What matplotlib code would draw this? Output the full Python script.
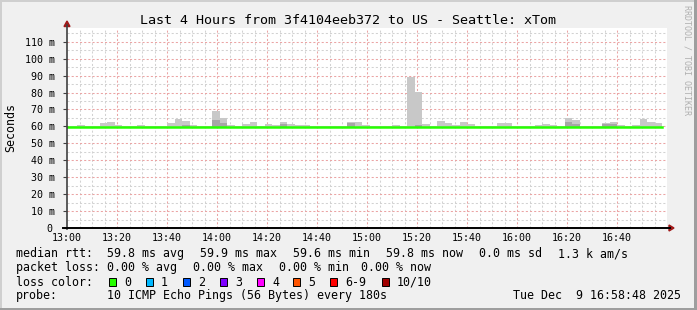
import matplotlib
matplotlib.use("Agg")
import matplotlib.pyplot as plt
from matplotlib.patches import Rectangle, Polygon
from matplotlib.lines import Line2D
from matplotlib.transforms import ScaledTranslation

W, H = 697, 310
DPI = 100

# ---------------- data ----------------
title = "Last 4 Hours from 3f4104eeb372 to US - Seattle: xTom"
x_tick_labels = ["13:00", "13:20", "13:40", "14:00", "14:20", "14:40",
                 "15:00", "15:20", "15:40", "16:00", "16:20", "16:40"]
y_tick_values = [0, 10, 20, 30, 40, 50, 60, 70, 80, 90, 100, 110]
y_tick_labels = ["0", "10 m", "20 m", "30 m", "40 m", "50 m", "60 m",
                 "70 m", "80 m", "90 m", "100 m", "110 m"]

# 3-minute buckets, first starts at 12:58 (minutes relative to 13:00)
first_bucket_min = -2
step_min = 3

median_ms = [59.8, 59.8, 59.7, 59.8, 59.8, 59.9, 59.8, 59.8, 59.7, 59.8,
             59.8, 59.8, 59.8, 59.7, 59.8, 59.9, 59.8, 59.8, 59.8, 59.8,
             59.9, 59.8, 59.8, 59.8, 59.8, 59.8, 59.7, 59.8, 59.8, 59.8,
             59.8, 59.8, 59.6, 59.8, 59.8, 59.8, 59.7, 59.8, 59.8, 59.8,
             59.8, 59.8, 59.8, 59.8, 59.8, 59.8, 59.9, 59.8, 59.8, 59.8,
             59.8, 59.8, 59.8, 59.7, 59.8, 59.8, 59.8, 59.8, 59.8, 59.8,
             59.8, 59.8, 59.8, 59.8, 59.7, 59.8, 59.8, 59.8, 59.8, 59.8,
             59.8, 59.8, 59.8, 59.8, 59.8, 59.8, 59.8, 59.8, 59.8, 59.8]

max_ms = [59.8, 60.0, 61.0, 60.0, 60.0, 62.0, 62.7, 61.0, 60.0, 60.0,
          61.0, 60.0, 60.0, 60.0, 62.0, 64.2, 63.4, 61.0, 60.0, 60.0,
          68.9, 65.2, 61.0, 60.0, 61.5, 62.7, 60.5, 61.5, 60.8, 62.7,
          61.5, 61.0, 61.0, 60.0, 60.0, 60.0, 60.0, 60.0, 62.5, 62.7,
          61.0, 60.0, 60.0, 60.0, 61.0, 60.0, 88.9, 80.2, 61.5, 60.0,
          63.4, 62.1, 61.0, 62.7, 61.5, 60.0, 60.0, 60.0, 62.1, 62.1,
          60.0, 60.0, 60.0, 61.0, 61.5, 61.0, 60.0, 65.2, 64.0, 60.0,
          60.0, 60.0, 62.0, 62.7, 61.0, 60.0, 61.0, 64.6, 62.7, 62.0]

second_ms = [59.8, 59.8, 59.8, 59.8, 59.8, 59.9, 59.8, 59.8, 59.7, 59.8,
             59.8, 59.8, 59.8, 59.7, 59.8, 59.9, 61.0, 59.8, 59.8, 59.8,
             63.7, 62.1, 59.8, 59.8, 59.8, 59.8, 59.7, 59.8, 59.8, 61.5,
             59.8, 59.8, 59.6, 59.8, 59.8, 59.8, 59.7, 59.8, 62.0, 59.8,
             59.8, 59.8, 59.8, 59.8, 59.8, 59.8, 59.9, 61.0, 59.8, 59.8,
             59.8, 59.8, 59.8, 59.7, 59.8, 59.8, 59.8, 59.8, 59.8, 59.8,
             59.8, 59.8, 59.8, 59.8, 59.7, 59.8, 59.8, 62.7, 61.5, 59.8,
             59.8, 59.8, 61.5, 61.5, 59.8, 59.8, 59.8, 59.8, 59.8, 59.8]

legend_rows = [
    [(16, "median rtt:"), (107, "59.8 ms avg"), (200, "59.9 ms max"),
     (293, "59.6 ms min"), (386, "59.8 ms now"), (479, "0.0 ms sd"),
     (558, "1.3 k am/s")],
    [(16, "packet loss:"), (107, "0.00 % avg"), (193, "0.00 % max"),
     (279, "0.00 % min"), (361, "0.00 % now")],
    [(16, "loss color:")],
    [(16, "probe:"), (107, "10 ICMP Echo Pings (56 Bytes) every 180s"),
     (513, "Tue Dec  9 16:58:48 2025")],
]
loss_labels = ["0", "1", "2", "3", "4", "5", "6-9", "10/10"]
loss_colors = ["#26ff00", "#00b8ff", "#0059ff", "#7e00ff", "#ff00ff",
               "#ff5500", "#ff0000", "#a10000"]
loss_box_x = [108.5, 145.5, 182.5, 219.5, 256.5, 293, 330, 381.5]

# ---------------- figure ----------------
fig = plt.figure(figsize=(W / DPI, H / DPI), dpi=DPI)
fig.patch.set_facecolor("#f0f0f0")

def fx(x):
    return x / W

def fy(y):
    return 1 - y / H

mono = "DejaVu Sans Mono"

# border
fig.add_artist(Rectangle((0, fy(2)), 1, 2 / H, transform=fig.transFigure,
                         facecolor="#cfcfcf", edgecolor="none"))
fig.add_artist(Rectangle((0, 0), 2 / W, 1, transform=fig.transFigure,
                         facecolor="#cfcfcf", edgecolor="none"))
fig.add_artist(Rectangle((0, 0), 1, 2 / H, transform=fig.transFigure,
                         facecolor="#9e9e9e", edgecolor="none"))
fig.add_artist(Rectangle((1 - 3 / W, 0), 3 / W, 1, transform=fig.transFigure,
                         facecolor="#9e9e9e", edgecolor="none"))

left_px, right_px, top_px, bottom_px = 67, 667, 27.5, 228
ax = fig.add_axes([fx(left_px), fy(bottom_px), (right_px - left_px) / W,
                   (bottom_px - top_px) / H])
ax.set_facecolor("white")
ax.set_xlim(0, 240)
ax.set_ylim(0, 118.4)

# grid
for m in range(5, 240, 5):
    if m % 20:
        ax.axvline(m, color="#d2d2d2", lw=0.75, ls=(0, (2, 2)), zorder=1)
for v in range(5, 120, 10):
    ax.axhline(v, color="#d2d2d2", lw=0.75, ls=(0, (2, 2)), zorder=1)
for m in range(20, 240, 20):
    ax.axvline(m, color="#eba4a4", lw=0.75, ls=(0, (2, 2)), zorder=1.5)
for v in range(10, 120, 10):
    ax.axhline(v, color="#eba4a4", lw=0.75, ls=(0, (2, 2)), zorder=1.5)

# smoke
starts = [first_bucket_min + step_min * i for i in range(len(median_ms))]
hi = [mx - md for mx, md in zip(max_ms, median_ms)]
mid = [s - md for s, md in zip(second_ms, median_ms)]
ax.bar(starts, hi, width=step_min, bottom=median_ms, align="edge",
       color="#c8c8c8", edgecolor="none", zorder=2)
ax.bar(starts, mid, width=step_min, bottom=median_ms, align="edge",
       color="#a6a6a6", edgecolor="none", zorder=2.1)

# median line
xs = starts + [starts[-1] + step_min]
ys = median_ms + [median_ms[-1]]
ax.step(xs, ys, where="post", color="#26ff00", lw=1.8, zorder=3)

for s in ax.spines.values():
    s.set_visible(False)

ax.set_xticks(list(range(0, 240, 20)))
ax.set_xticklabels(x_tick_labels, fontfamily=mono, fontsize=7.2)
ax.tick_params(axis="x", length=0, pad=3.6)
ax.set_yticks(y_tick_values)
ax.set_yticklabels(y_tick_labels, fontfamily=mono, fontsize=7.2)
ax.tick_params(axis="y", length=3, width=0.8, color="#404040", pad=5.5)
ylbls = ax.get_yticklabels()
ylbls[0].set_transform(ylbls[0].get_transform() +
                       ScaledTranslation(-3 / DPI, 0, fig.dpi_scale_trans))

# axis lines and arrows
fig.add_artist(Line2D([fx(67), fx(67)], [fy(229), fy(25)],
                      transform=fig.transFigure, color="#404040", lw=1.2))
fig.add_artist(Line2D([fx(63), fx(670)], [fy(228), fy(228)],
                      transform=fig.transFigure, color="black", lw=1.4))
fig.add_artist(Polygon([(fx(64), fy(26.5)), (fx(70), fy(26.5)),
                        (fx(67), fy(21))], closed=True,
                       transform=fig.transFigure, color="#a01818"))
fig.add_artist(Polygon([(fx(669), fy(225)), (fx(669), fy(231)),
                        (fx(674), fy(228))], closed=True,
                       transform=fig.transFigure, color="#a01818"))

# texts
fig.text(fx(348), fy(23.5), title, ha="center", va="baseline",
         fontfamily=mono, fontsize=9.6, color="black")
fig.text(fx(10.5), fy(127), "Seconds", ha="center", va="center",
         rotation=90, fontfamily=mono, fontsize=8.4)
fig.text(fx(687), fy(5), "RRDTOOL / TOBI OETIKER", ha="center", va="top",
         rotation=270, fontfamily=mono, fontsize=6.0, color="#b0b0b0")

baselines = [257.3, 271, 285.7, 299.3]
for row, base in zip(legend_rows, baselines):
    for x, t in row:
        fig.text(fx(x), fy(base), t, ha="left", va="baseline",
                 fontfamily=mono, fontsize=8.4)

for bx, col, lab in zip(loss_box_x, loss_colors, loss_labels):
    fig.add_artist(Rectangle((fx(bx), fy(285.7)), 7.3 / W, 7.3 / H,
                             transform=fig.transFigure, facecolor=col,
                             edgecolor="black", lw=0.7))
    fig.text(fx(bx + 15.5), fy(285.7), lab, ha="left", va="baseline",
             fontfamily=mono, fontsize=8.4)

fig.savefig("out.png", dpi=DPI, facecolor=fig.get_facecolor())
